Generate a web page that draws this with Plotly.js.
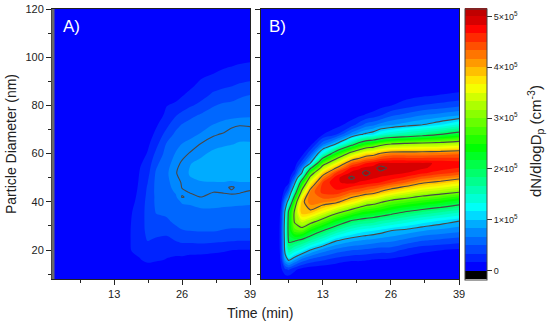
<!DOCTYPE html>
<html><head><meta charset="utf-8">
<script src="https://cdn.plot.ly/plotly-3.0.1.min.js"></script>
<style>html,body{margin:0;padding:0;background:#fff}</style></head>
<body><div id="chart" style="width:550px;height:323px"></div>
<script>
// values are dN/dlogDp in units of 1e5 cm^-3; each inner list is one time column, bottom to top; omitted tail = 0
var diamA=[8,12,16,20,24,28,32,36,40,42,44,46,48,52,56,60,64,68,72,76,80,84,88,92,96,100,120];
var timeA=[1.2,13,15,16.5,18,19.4,21,23,24.8,26,27.5,29.6,32,34,35.5,37,39];
var colsA=[
[],[],
[0,0,0,.05,.05,.05,.04,.03,.01],
[0,0,.08,.18,.19,.19,.18,.16,.12,.1,.08,.06,.04,.01],
[0,.02,.15,.2,.23,.25,.25,.25,.24,.23,.22,.21,.2,.18,.14,.08,.03],
[0,.06,.2,.27,.33,.37,.38,.38,.37,.36,.35,.34,.32,.27,.22,.17,.12,.06,.01],
[0,.05,.18,.22,.3,.38,.45,.5,.52,.52,.53,.53,.53,.51,.45,.36,.27,.2,.13,.05,.01],
[0,.03,.15,.2,.28,.37,.46,.53,.57,.59,.6,.61,.62,.63,.6,.55,.5,.38,.28,.2,.15,.05,.01],
[0,.02,.13,.2,.33,.44,.53,.58,.62,.64,.67,.7,.72,.755,.72,.67,.6,.53,.43,.31,.19,.1,.03,.01],
[0,.01,.12,.22,.36,.48,.55,.6,.67,.77,.74,.765,.77,.79,.78,.72,.66,.58,.5,.37,.24,.15,.07,.02],
[0,.01,.09,.22,.36,.49,.56,.61,.68,.73,.765,.79,.81,.83,.82,.77,.7,.61,.55,.44,.3,.2,.13,.07,.02],
[0,0,.08,.22,.37,.5,.56,.63,.71,.76,.78,.8,.82,.84,.84,.81,.765,.67,.59,.51,.37,.27,.2,.14,.05,.01],
[0,0,.07,.2,.36,.5,.56,.63,.71,.74,.76,.79,.82,.86,.88,.84,.8,.75,.66,.56,.48,.36,.27,.18,.1,.04],
[0,0,.06,.18,.35,.48,.56,.62,.7,.74,.765,.775,.82,.87,.89,.86,.81,.77,.71,.59,.52,.41,.3,.22,.14,.07],
[0,0,.05,.16,.34,.47,.55,.61,.7,.745,.77,.75,.815,.87,.89,.86,.82,.79,.745,.6,.53,.43,.32,.24,.16,.08],
[0,0,.05,.15,.33,.47,.55,.61,.69,.74,.765,.78,.82,.88,.9,.87,.83,.8,.755,.62,.55,.47,.35,.26,.18,.1],
[0,0,.05,.15,.33,.47,.54,.61,.68,.72,.75,.78,.82,.88,.9,.87,.83,.8,.75,.63,.56,.5,.37,.28,.19,.12]
];
var diamB=[8,12,16,20,24,28,32,36,40,44,48,50,52,54,56,60,64,68,72,76,80,84,88,92,96,100,120];
var timeB=[1.2,4.4,5,5.8,6.5,7.6,9,10.6,13,15.5,18.5,20,21.2,22.7,24,26,29,32,35.5,39];
var colsB=[
[],[],
[.03,.12,.2,.25,.28,.28,.25,.2,.1,.02],
[.05,.3,.85,1.1,1.15,1.2,1.15,1.05,.7,.25,.05,.03,.01],
[.05,.35,1.05,1.65,2.1,2.2,2.2,2.1,1.2,.55,.12,.06,.02,.01],
[.02,.2,.85,1.45,2.05,2.75,3.05,3.05,2.6,1.65,.85,.5,.25,.12,.05],
[.01,.1,.6,1.25,1.9,2.8,3.4,3.98,3.9,3.2,2.35,1.7,1.0,.7,.4,.08],
[0,.05,.45,1.0,1.65,2.4,3.2,3.95,4.25,4.2,3.55,3.15,2.65,1.9,1.0,.45,.08],
[0,.03,.35,.75,1.35,2.0,2.8,3.6,4.2,4.55,4.5,4.2,3.8,3.3,2.75,1.35,.6,.15,.03],
[0,.02,.25,.6,1.03,1.65,2.35,3.2,4.1,4.6,4.8,4.75,4.5,4.0,3.5,2.35,1.0,.3,.08,.01],
[0,.02,.18,.5,.87,1.35,1.95,2.8,3.7,4.35,4.88,5.06,4.88,4.7,4.35,3.25,1.8,.75,.25,.06],
[0,.02,.18,.48,.83,1.25,1.85,2.6,3.5,4.3,4.8,4.9,4.9,4.8,4.5,3.55,2.2,.95,.4,.12,.02],
[0,.01,.17,.45,.8,1.2,1.8,2.5,3.3,4.2,4.75,4.92,5.12,4.88,4.65,3.75,2.45,1.05,.55,.17,.04],
[0,.01,.15,.42,.77,1.15,1.75,2.42,3.2,4.12,4.7,4.85,4.9,4.9,4.75,3.85,2.6,1.15,.62,.22,.06,.01],
[0,0,.14,.4,.73,1.1,1.65,2.35,3.05,3.95,4.65,4.8,4.92,5.12,4.85,4.05,2.8,1.35,.72,.3,.1,.02],
[0,0,.12,.4,.7,1.0,1.55,2.2,2.85,3.75,4.5,4.75,4.88,4.92,4.85,4.2,3.0,1.5,.8,.45,.15,.05],
[0,0,.08,.28,.6,.92,1.4,2.0,2.7,3.5,4.3,4.6,4.82,4.88,4.85,4.2,3.1,1.65,.9,.55,.25,.1,.03],
[0,0,.05,.2,.5,.83,1.25,1.85,2.55,3.3,4.05,4.4,4.7,4.85,4.85,4.2,3.15,1.8,1.0,.65,.33,.14,.05,.01],
[0,0,.03,.16,.45,.76,1.12,1.7,2.4,3.15,3.9,4.25,4.55,4.75,4.8,4.25,3.2,2.0,1.15,.72,.38,.17,.06,.02],
[0,0,.02,.13,.4,.7,1.0,1.55,2.2,3.0,3.7,4.1,4.45,4.65,4.75,4.3,3.3,2.2,1.35,.8,.45,.2,.08,.02]
];
var colorTickVals=[0,100000,200000,300000,400000,500000];
var colorTickText=['0','1×10<sup>5</sup>','2×10<sup>5</sup>','3×10<sup>5</sup>','4×10<sup>5</sup>','5×10<sup>5</sup>'];
var lineLevelsA={start:76000,end:76000,size:100000};
var lineLevelsB={start:100000,end:500000,size:100000};
var bands={start:-17667,size:16667,count:32};
var colorStops=[[0,'#000000'],[0.0305,'#000000'],[0.0312,'#0000ff'],[0.0469,'#0000ff'],[0.205,'#00a5ff'],[0.2675,'#00ffff'],[0.5019,'#00ff00'],[0.7362,'#ffff00'],[0.955,'#ff0000'],[1,'#c00000']];

function matrix(cols,nRows){
  var m=[];
  for(var r=0;r<nRows;r++){
    m.push(cols.map(function(c){return (c[r]||0)*1e5;}));
  }
  return m;
}
var zA=matrix(colsA,diamA.length), zB=matrix(colsB,diamB.length);
var zmax=bands.start+bands.size*bands.count;
var W=550,H=323;
function px(v){return v/W;} function py(v){return 1-v/H;}
function fill(x,y,z,xa,scale){
  return {type:'contour',x:x,y:y,z:z,xaxis:xa,yaxis:'y'+(xa==='x'?'':'2'),
    zmin:bands.start,zmax:zmax,zauto:false,colorscale:colorStops,autocontour:false,
    contours:{coloring:'fill',start:bands.start,end:zmax-bands.size,size:bands.size,showlines:false},
    line:{width:0,smoothing:0.9},hoverinfo:'skip',showscale:scale,
    colorbar:{x:px(465),xanchor:'left',y:py(279.5),yanchor:'bottom',len:270.5/H,lenmode:'fraction',
      thickness:22,thicknessmode:'pixels',xpad:0,ypad:0,outlinecolor:'#444',outlinewidth:1,
      tickmode:'array',tickvals:colorTickVals,ticktext:colorTickText,ticks:'outside',ticklen:5,tickcolor:'#333',
      tickfont:{family:'Liberation Sans',size:9,color:'#222'}}};
}
function lines(x,y,z,xa,lev){
  return {type:'contour',x:x,y:y,z:z,xaxis:xa,yaxis:'y'+(xa==='x'?'':'2'),showscale:false,autocontour:false,
    zmin:bands.start,zmax:zmax,
    contours:{coloring:'none',start:lev.start,end:lev.end,size:lev.size},
    line:{color:'#484848',width:1.1,smoothing:0.6},hoverinfo:'skip'};
}
var tickFont={family:'Liberation Sans',size:11,color:'#222'};
function xAx(l,r,lo){return {domain:[px(l),px(r)],range:[lo,39],tick0:0,dtick:13,ticks:'outside',ticklen:5,tickcolor:'#222',tickfont:tickFont,
  showline:true,mirror:true,linecolor:'#222',linewidth:1,showgrid:false,zeroline:false,
  minor:{dtick:6.5,tick0:0,ticks:'outside',ticklen:3,tickcolor:'#222',showgrid:false}};}
function yAx(lbl,title){var a={domain:[py(279),py(9)],range:[8,120],tick0:0,dtick:20,ticks:'outside',ticklen:5,tickcolor:'#222',tickfont:tickFont,
  showline:true,mirror:true,linecolor:'#222',linewidth:1,showgrid:false,zeroline:false,showticklabels:lbl,
  minor:{dtick:10,tick0:0,ticks:'outside',ticklen:3,tickcolor:'#222',showgrid:false}};
  if(title) {a.title={text:title,font:{family:'Liberation Sans',size:14,color:'#222'},standoff:5};}
  return a;}
var x1=xAx(52,250,1.1), x2=xAx(261,459,1.2), y1=yAx(true,'Particle Diameter (nm)'), y2=yAx(false);
x2.anchor='y2'; y2.anchor='x2';
var ann=function(t,x,y,o){var a={xref:'paper',yref:'paper',x:px(x),y:py(y),text:t,showarrow:false,xanchor:'center',yanchor:'middle',
  font:{family:'Liberation Sans',size:14,color:'#222'}}; for(var k in o)a[k]=o[k]; return a;};
var white={family:'Liberation Sans',size:17,color:'#fff'};
var layout={width:W,height:H,margin:{l:0,r:0,t:0,b:0,autoexpand:false},paper_bgcolor:'#fff',plot_bgcolor:'#00f',showlegend:false,
  xaxis:x1,yaxis:y1,xaxis2:x2,yaxis2:y2,
  annotations:[ann('A)',71,27,{font:white}),ann('B)',277,27,{font:white}),
    ann('Time (min)',260,313),
    ann('dN/dlogD<sub>p</sub> (cm<sup>-3</sup>)',536,141,{textangle:-90,font:{family:'Liberation Sans',size:15,color:'#222'}})],
  shapes:[{type:'line',xref:'paper',yref:'paper',x0:px(53),x1:px(53),y0:py(279),y1:py(9),line:{color:'#6a6a6a',width:3}}]};
Plotly.newPlot('chart',[fill(timeA,diamA,zA,'x',false),lines(timeA,diamA,zA,'x',lineLevelsA),fill(timeB,diamB,zB,'x2',true),lines(timeB,diamB,zB,'x2',lineLevelsB)],layout,{displayModeBar:false,staticPlot:true});
</script></body></html>
